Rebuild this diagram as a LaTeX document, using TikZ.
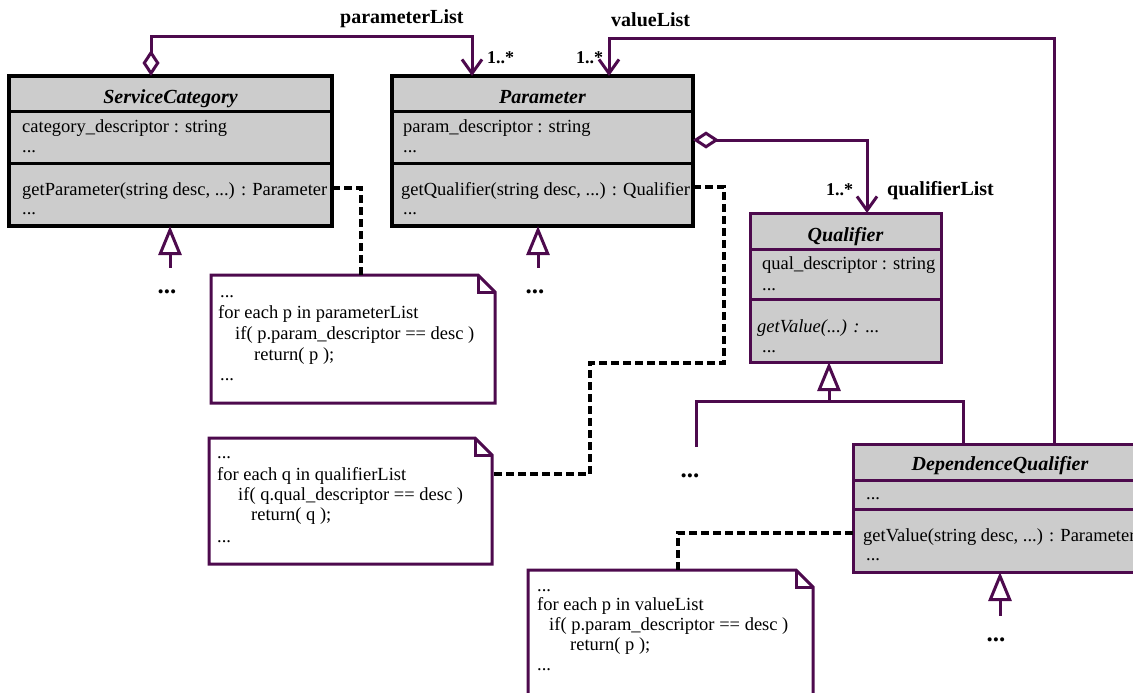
\documentclass[tikz,border=0pt]{standalone}
\usepackage{fontspec}
\setmainfont{Liberation Serif}
\usetikzlibrary{arrows.meta}
\definecolor{umlpurple}{RGB}{77,10,77}
\definecolor{boxgray}{RGB}{204,204,204}
\newcommand\fbody{\fontsize{18.5}{20}\selectfont}
\newcommand\ftitle{\fontsize{20}{22}\selectfont\bfseries\itshape}
\newcommand\flabel{\fontsize{20}{22}\selectfont\bfseries}
\newcommand\fmult{\fontsize{18}{20}\selectfont\bfseries}
\newcommand\fdots{\fontsize{25}{26}\selectfont\bfseries}
\begin{document}
\begin{tikzpicture}[x=1pt, y=-1pt,
  classbox/.style={draw=black, line width=3.3pt, fill=boxgray, inner sep=0pt, outer sep=0pt, anchor=north west},
  classboxp/.style={classbox, draw=umlpurple, line width=3pt},
  sep/.style={draw=black, line width=3pt},
  sepp/.style={draw=umlpurple, line width=3pt},
  txt/.style={anchor=base west, inner sep=0pt, font=\fbody},
  ttl/.style={anchor=base, inner sep=0pt, font=\ftitle},
  lbl/.style={anchor=base west, inner sep=0pt, font=\flabel},
  mult/.style={anchor=base west, inner sep=0pt, font=\fmult},
  more/.style={anchor=base, inner sep=0pt, font=\fdots},
  conn/.style={draw=umlpurple, line width=3pt},
  dashline/.style={draw=black, line width=3.3pt, dash pattern=on 8pt off 4pt},
  notebox/.style={inner sep=0pt, outer sep=0pt, anchor=north west},
  noteline/.style={draw=umlpurple, line width=3pt, fill=white, line join=miter},
  nav/.style={-{Straight Barb[length=14pt, width=20pt]}},
  aggnav/.style={{Diamond[open, length=26pt, width=17pt]}-{Straight Barb[length=14pt, width=20pt]}},
  gen/.style={{Triangle[open, length=29pt, width=23pt]}-}
]
\useasboundingbox (0,0) rectangle (1133,693);
\clip (0,0) rectangle (1133,693);

% ---------- ServiceCategory ----------
\node[classbox, minimum width=323pt, minimum height=150pt] (sc) at (9,76) {};
\draw[sep] ([yshift=-35]sc.north west) -- ([yshift=-35]sc.north east);
\draw[sep] ([yshift=-87]sc.north west) -- ([yshift=-87]sc.north east);
\node[ttl] (scT) at (170.5,103) {ServiceCategory};
\node[txt] (scA1) at (22,132) {category\_descriptor : string};
\node[txt] (scA2) at (22,152) {...};
\node[txt] (scM1) at (22,195) {getParameter(string desc, ...) : Parameter};
\node[txt] (scM2) at (22,214) {...};

% ---------- Parameter ----------
\node[classbox, minimum width=301pt, minimum height=150pt] (par) at (392,76) {};
\draw[sep] ([yshift=-35]par.north west) -- ([yshift=-35]par.north east);
\draw[sep] ([yshift=-87]par.north west) -- ([yshift=-87]par.north east);
\node[ttl] (parT) at (542.5,103) {Parameter};
\node[txt] (parA1) at (403,132) {param\_descriptor : string};
\node[txt] (parA2) at (403,152) {...};
\node[txt] (parM1) at (401,195) {getQualifier(string desc, ...) : Qualifier};
\node[txt] (parM2) at (403,214) {...};

% ---------- Qualifier ----------
\node[classboxp, minimum width=191pt, minimum height=149pt] (q) at (750,213) {};
\draw[sepp] ([yshift=-36]q.north west) -- ([yshift=-36]q.north east);
\draw[sepp] ([yshift=-86]q.north west) -- ([yshift=-86]q.north east);
\node[ttl] (qT) at (845.5,241) {Qualifier};
\node[txt] (qA1) at (762,269) {qual\_descriptor : string};
\node[txt] (qA2) at (762,290) {...};
\node[txt] (qM1) at (757,332) {\itshape getValue(...) : ...};
\node[txt] (qM2) at (762,352) {...};

% ---------- DependenceQualifier ----------
\node[classboxp, minimum width=294pt, minimum height=128pt] (dq) at (853,444) {};
\draw[sepp] ([yshift=-36]dq.north west) -- ([yshift=-36]dq.north east);
\draw[sepp] ([yshift=-65]dq.north west) -- ([yshift=-65]dq.north east);
\node[ttl] (dqT) at (1000,470) {DependenceQualifier};
\node[txt] (dqA1) at (866,499) {...};
\node[txt] (dqM1) at (863,541) {getValue(string desc, ...) : Parameter};
\node[txt] (dqM2) at (866,560) {...};

% ---------- notes ----------
\node[notebox, minimum width=284pt, minimum height=128pt] (n1) at (211,275) {};
\node[notebox, minimum width=283pt, minimum height=126pt] (n2) at (209,438) {};
\node[notebox, minimum width=285pt, minimum height=140pt] (n3) at (528,570) {};
\foreach \n in {n1,n2,n3}{
  \draw[noteline] (\n.north west) -- ([xshift=-17]\n.north east) -- ([yshift=-17]\n.north east)
    -- (\n.south east) -- (\n.south west) -- cycle;
  \draw[noteline, fill=none] ([xshift=-17]\n.north east) |- ([yshift=-17]\n.north east);
}
\node[txt] (n1a) at (220,297) {...};
\node[txt] (n1b) at (218,318) {for each p in parameterList};
\node[txt] (n1c) at (235,339) {if( p.param\_descriptor == desc )};
\node[txt] (n1d) at (254,360) {return( p );};
\node[txt] (n1e) at (220,380) {...};

\node[txt] (n2a) at (217,458) {...};
\node[txt] (n2b) at (217,480) {for each q in qualifierList};
\node[txt] (n2c) at (238,500) {if( q.qual\_descriptor == desc )};
\node[txt] (n2d) at (251,520) {return( q );};
\node[txt] (n2e) at (217,542) {...};

\node[txt] (n3a) at (537,591) {...};
\node[txt] (n3b) at (537,610) {for each p in valueList};
\node[txt] (n3c) at (549,630) {if( p.param\_descriptor == desc )};
\node[txt] (n3d) at (570,650) {return( p );};
\node[txt] (n3e) at (537,670) {...};

% ---------- associations ----------
\draw[conn, aggnav] ([xshift=142]sc.north west) |- ([xshift=80, yshift=39]par.north west) -- ([xshift=80]par.north west);
\draw[conn, nav] ([xshift=201]dq.north west) |- ([xshift=217, yshift=37]par.north west) -- ([xshift=217]par.north west);
\draw[conn, aggnav] ([yshift=-64]par.north east) -| ([xshift=117]q.north west);

\node[lbl] (lPL) at (340,24) {parameterList};
\node[mult] (mPL) at (487,64) {1..*};
\node[lbl] (lVL) at (611,27) {valueList};
\node[mult] (mVL) at (576,64) {1..*};
\node[mult] (mQL) at (826,195) {1..*};
\node[lbl] (lQL) at (887,195) {qualifierList};

% ---------- generalizations ----------
\coordinate (scSub) at (170,268);
\coordinate (parSub) at (538,268);
\coordinate (qSub) at (696,447);
\coordinate (dqSub) at (1000,616);
\draw[conn, gen] ([xshift=161]sc.south west) -- (scSub);
\draw[conn, gen] ([xshift=146]par.south west) -- (parSub);
\draw[conn, gen] ([xshift=79]q.south west) -- ([xshift=79, yshift=-39]q.south west);
\draw[conn, line join=miter] (qSub) |- ([xshift=110, yshift=43]dq.north west) -- ([xshift=110]dq.north west);
\draw[conn, gen] ([xshift=147]dq.south west) -- (dqSub);
\node[more] (scMore) at (167,293) {...};
\node[more] (parMore) at (535,293) {...};
\node[more] (qMore) at (690,477) {...};
\node[more] (dqMore) at (996,641) {...};

% ---------- note links ----------
\draw[dashline] ([yshift=-112]sc.north east) -| ([xshift=150]n1.north west);
\draw[dashline] ([yshift=-111]par.north east) -- ++(31,0) |- ++(-134,176) |- ([yshift=-36]n2.north east);
\draw[dashline] ([yshift=-89]dq.north west) -| ([xshift=150]n3.north west);
\end{tikzpicture}
\end{document}
